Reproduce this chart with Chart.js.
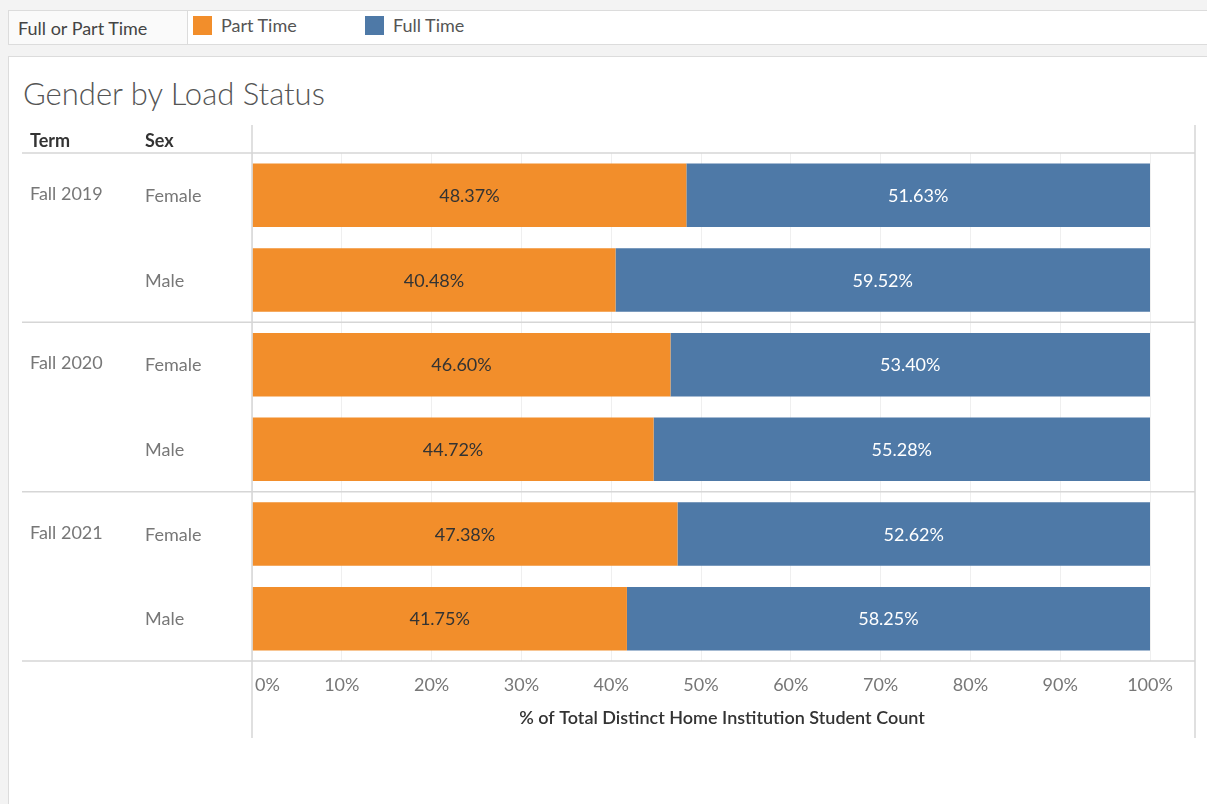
<!DOCTYPE html>
<html>
<head>
<meta charset="utf-8">
<script src="https://cdn.jsdelivr.net/npm/chart.js@4.4.0/dist/chart.umd.min.js"></script>
<style>
  body { margin: 0; width: 1207px; height: 804px; background: #f3f3f3; font-family: Lato, "Open Sans", sans-serif; overflow: hidden; position: relative; }
  #legendBar { position: absolute; left: 8px; top: 10px; width: 1199px; height: 35px; background: #fff; border: 1px solid #dcdcdc; border-right: none; box-sizing: border-box; }
  #legendTitle { position: absolute; left: 0; top: 0; width: 179px; height: 33px; background: #fafafa; border-right: 1px solid #dcdcdc; font-size: 18px; color: #444; line-height: 35px; padding-left: 9px; box-sizing: border-box; }
  .item { position: absolute; top: 3px; font-size: 18px; color: #555; line-height: 22px; }
  .swatch { position: absolute; left: 0; top: 2px; width: 19px; height: 19px; }
  .item span { margin-left: 28px; }
  #panel { position: absolute; left: 8px; top: 56px; width: 1199px; height: 748px; background: #fff; border-top: 1px solid #dcdcdc; border-left: 1px solid #dcdcdc; box-sizing: border-box; }
  #title { position: absolute; left: 23px; top: 74px; font-size: 31px; color: #555; font-weight: 300; }
  canvas { position: absolute; left: 0; top: 0; }
</style>
</head>
<body>
<div id="legendBar">
  <div id="legendTitle">Full or Part Time</div>
  <div class="item" style="left:184px"><div class="swatch" style="background:#F28E2B"></div><span>Part Time</span></div>
  <div class="item" style="left:356px"><div class="swatch" style="background:#4E79A7"></div><span>Full Time</span></div>
</div>
<div id="panel"></div>
<div id="title">Gender by Load Status</div>
<canvas id="chart" width="1207" height="804"></canvas>
<script>
// data
const terms = ['Fall 2019', 'Fall 2020', 'Fall 2021'];
const sexes = ['Female', 'Male'];
const partTime = [48.37, 40.48, 46.60, 44.72, 47.38, 41.75];
const fullTime = [51.63, 59.52, 53.40, 55.28, 52.62, 58.25];
const tickValues = [0, 10, 20, 30, 40, 50, 60, 70, 80, 90, 100];
const axisTitle = '% of Total Distinct Home Institution Student Count';

const rowLabels = [];
terms.forEach(t => sexes.forEach(s => rowLabels.push(t + ' ' + s)));

const FONT = 'Lato, "Open Sans", sans-serif';

// draws table text, separators, tick labels and value labels
const tablePlugin = {
  id: 'table',
  afterDatasetsDraw(chart) {
    const ctx = chart.ctx;
    const area = chart.chartArea;
    const x = chart.scales.x;
    const y = chart.scales.y;
    ctx.save();

    // value labels inside bars
    ctx.font = '18px ' + FONT;
    ctx.textAlign = 'center';
    ctx.textBaseline = 'middle';
    chart.data.datasets.forEach((ds, di) => {
      chart.getDatasetMeta(di).data.forEach((bar, i) => {
        ctx.fillStyle = di === 0 ? '#333' : '#fff';
        ctx.fillText(ds.data[i].toFixed(2) + '%', (bar.x + bar.base) / 2, bar.y + 1);
      });
    });

    // lines
    ctx.strokeStyle = '#d6d6d6';
    ctx.lineWidth = 1.5;
    const hLine = yy => { ctx.beginPath(); ctx.moveTo(22, yy); ctx.lineTo(1195, yy); ctx.stroke(); };
    hLine(area.top);
    for (let t = 1; t < terms.length; t++) {
      const i = t * sexes.length;
      hLine((y.getPixelForValue(i - 1) + y.getPixelForValue(i)) / 2);
    }
    hLine(area.bottom);
    ctx.beginPath(); ctx.moveTo(area.left, 125); ctx.lineTo(area.left, 738); ctx.stroke();
    ctx.beginPath(); ctx.moveTo(1195, 125); ctx.lineTo(1195, 738); ctx.stroke();

    // header
    ctx.textAlign = 'left';
    ctx.fillStyle = '#333';
    ctx.font = 'bold 18px ' + FONT;
    ctx.fillText('Term', 30, 141);
    ctx.fillText('Sex', 145, 141);

    // row labels
    ctx.fillStyle = '#777';
    ctx.font = '18px ' + FONT;
    rowLabels.forEach((lab, i) => {
      const py = y.getPixelForValue(i);
      if (i % sexes.length === 0) ctx.fillText(terms[i / sexes.length], 30, py - 1);
      ctx.fillText(sexes[i % sexes.length], 145, py + 1);
    });

    // tick labels
    ctx.fillStyle = '#777';
    tickValues.forEach((v, i) => {
      const px = x.getPixelForValue(v);
      ctx.textAlign = i === 0 ? 'left' : 'center';
      ctx.fillText(v + '%', i === 0 ? px + 3 : px, 685);
    });

    // axis title
    ctx.fillStyle = '#333';
    ctx.font = '600 18px ' + FONT;
    ctx.textAlign = 'center';
    ctx.fillText(axisTitle, 722, 718);
    ctx.restore();
  }
};

new Chart(document.getElementById('chart'), {
  type: 'bar',
  data: {
    labels: rowLabels,
    datasets: [
      { label: 'Part Time', data: partTime, backgroundColor: '#F28E2B' },
      { label: 'Full Time', data: fullTime, backgroundColor: '#4E79A7' }
    ]
  },
  options: {
    indexAxis: 'y',
    responsive: false,
    animation: false,
    layout: { padding: { left: 252, right: 57, top: 153, bottom: 0 } },
    datasets: { bar: { barPercentage: 0.75, categoryPercentage: 1 } },
    plugins: { legend: { display: false }, tooltip: { enabled: false } },
    scales: {
      x: {
        stacked: true, min: 0, max: 100,
        ticks: { display: false, stepSize: 10 },
        grid: { color: '#efefef', drawTicks: false },
        border: { display: false },
        afterFit(scale) { scale.height = 143; }
      },
      y: { stacked: true, display: false }
    }
  },
  plugins: [tablePlugin]
});
</script>
</body>
</html>
